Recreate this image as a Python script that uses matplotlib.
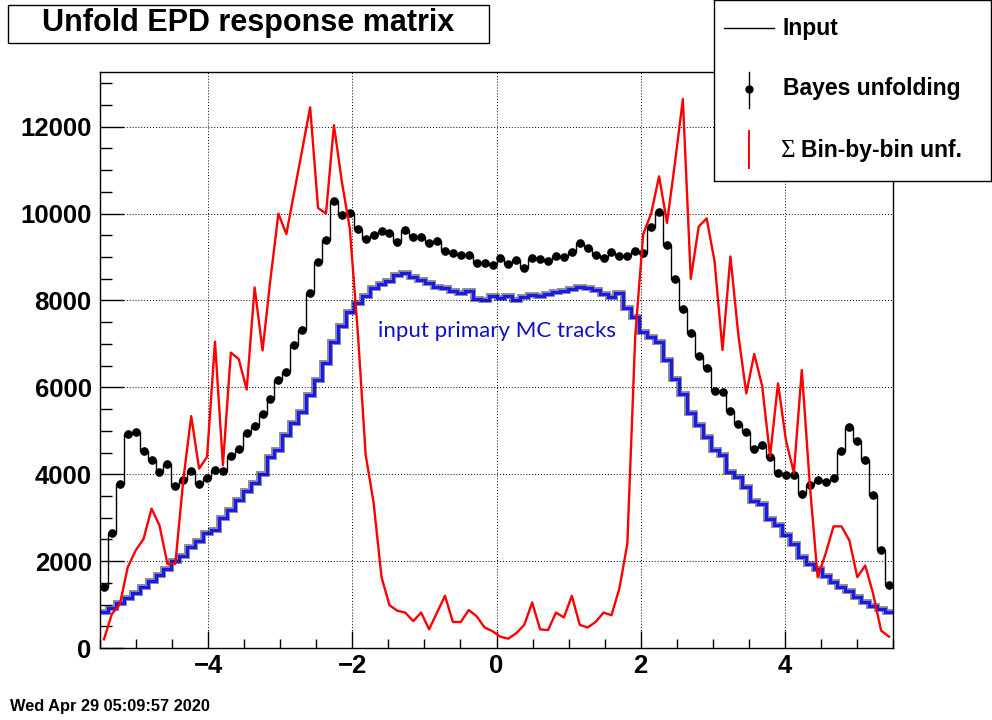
import numpy as np
import matplotlib.pyplot as plt
from matplotlib.ticker import MultipleLocator
from matplotlib.patches import Rectangle

plt.rcParams['font.family'] = ['Liberation Sans', 'DejaVu Sans']
plt.rcParams['font.weight'] = 'bold'

# 100 bins from -5.5 to 5.5
edges = np.linspace(-5.5, 5.5, 101)
centers = 0.5 * (edges[:-1] + edges[1:])

# Bayes unfolding (black points)
bayes = [1400, 2646, 3769, 4923, 4977, 4538, 4323, 4054, 4246, 3723,
         3861, 4077, 3769, 3908, 4092, 4069, 4423, 4577, 4938, 5115,
         5384, 5723, 6169, 6354, 6969, 7323, 8169, 8884, 9399, 10283,
         9957, 10009, 9657, 9417, 9511, 9597, 9545, 9357, 9614, 9460,
         9460, 9314, 9374, 9142, 9099, 9056, 9039, 8859, 8859, 8824,
         8970, 8842, 8927, 8756, 8970, 8944, 8910, 9013, 8996, 9116,
         9314, 9202, 9056, 8970, 9116, 9013, 9013, 9150, 9082, 9700,
         10043, 9270, 8498, 7807, 7261, 6723, 6438, 5923, 5900, 5454,
         5146, 4977, 4585, 4662, 4400, 4031, 3977, 3977, 3538, 3746,
         3861, 3815, 3915, 4538, 5092, 4761, 4323, 3515, 2261, 1461]

# input primary MC tracks (blue)
mc_input = [823, 923, 1031, 1154, 1261, 1415, 1531, 1692, 1815, 2000,
            2108, 2323, 2461, 2646, 2723, 3000, 3185, 3400, 3615, 3800,
            4015, 4400, 4554, 4900, 5169, 5438, 5823, 6169, 6554, 7054,
            7420, 7735, 7940, 8100, 8284, 8376, 8438, 8576, 8630, 8530,
            8476, 8400, 8322, 8284, 8223, 8169, 8207, 8038, 8015, 8092,
            8054, 8092, 8015, 8069, 8115, 8092, 8146, 8192, 8223, 8269,
            8322, 8284, 8246, 8146, 8069, 8169, 7823, 7620, 7284, 7154,
            7054, 6630, 6200, 5850, 5400, 5130, 4860, 4554, 4438, 4054,
            3938, 3708, 3385, 3323, 2977, 2823, 2592, 2400, 2092, 1938,
            1823, 1669, 1515, 1415, 1323, 1169, 1054, 977, 900, 823]

# sum of bin-by-bin unfolding (red)
binbybin = [200, 785, 1000, 1862, 2246, 2515, 3208, 2823, 1938, 1938,
            3861, 5338, 4131, 4400, 7054, 4208, 6800, 6650, 5950, 8300,
            6850, 8498, 10000, 9528, 10500, 11470, 12447, 10129, 10000, 12035,
            10730, 9657, 7296, 4450, 3348, 1631, 987, 858, 815, 618,
            815, 429, 815, 1202, 600, 600, 875, 730, 472, 386,
            258, 215, 343, 532, 1047, 429, 412, 815, 704, 1202,
            532, 472, 600, 815, 755, 1373, 2400, 7200, 9528, 10000,
            10858, 9786, 11160, 12636, 8498, 9700, 9890, 8900, 6861, 9013,
            7200, 5861, 6769, 6030, 4415, 6092, 4784, 4031, 6400, 3785,
            1631, 2169, 2800, 2800, 2477, 1631, 1900, 1246, 400, 262]

fig = plt.figure(figsize=(9.92, 7.2), dpi=100)
ax = fig.add_axes([100 / 992, 72 / 720, 793 / 992, 576 / 720])

ax.stairs(mc_input, edges, baseline=None, color='#101030', lw=4.2, alpha=0.5)
ax.stairs(mc_input, edges, baseline=None, color='#1a1aee', lw=2.2)
ax.stairs(bayes, edges, baseline=None, color='black', lw=1)
ax.plot(centers, bayes, 'o', color='black', ms=5.2)
ax.plot(centers, binbybin, color='red', lw=1.7)

ax.text(-1.64, 7300, 'input primary MC tracks', color='#1010c0', fontsize=16,
        fontweight='normal', family=['Lato', 'DejaVu Sans'], va='center', ha='left')

ax.set_xlim(-5.5, 5.5)
ax.set_ylim(0, 13260)
ax.set_xticks([-4, -2, 0, 2, 4])
ax.xaxis.set_minor_locator(MultipleLocator(0.5))
ax.yaxis.set_major_locator(MultipleLocator(2000))
ax.yaxis.set_minor_locator(MultipleLocator(500))
ax.tick_params(axis='x', which='major', direction='in', length=12.5, width=1,
               labelsize=18.5, pad=4)
ax.tick_params(axis='x', which='minor', direction='in', length=6.5, width=1)
ax.tick_params(axis='y', which='major', direction='in', length=17, width=1,
               labelsize=18.5, pad=6)
ax.tick_params(axis='y', which='minor', direction='in', length=8.5, width=1)
ax.grid(True, which='major', color='black', ls=(0, (1, 2)), lw=0.7)
for s in ax.spines.values():
    s.set_linewidth(1)

# title box
fig.patches.append(Rectangle((8 / 992, 1 - 43 / 720), 481 / 992, 38 / 720,
                             transform=fig.transFigure, fc='white', ec='black', lw=1))
fig.text(248 / 992, 1 - 23 / 720, 'Unfold EPD response matrix', fontsize=22,
         ha='center', va='center')

# legend box
lax = fig.add_axes([714 / 992, 1 - 181 / 720, 277 / 992, 181 / 720])
lax.set_xlim(714, 991)
lax.set_ylim(181, 0)
lax.set_xticks([])
lax.set_yticks([])
for s in lax.spines.values():
    s.set_linewidth(1)
lax.plot([724, 774], [28, 28], color='black', lw=1)
lax.text(783, 28, 'Input', fontsize=16.5, va='center')
lax.plot([749, 749], [72, 108], color='black', lw=1)
lax.plot([749], [89], 'o', color='black', ms=5)
lax.text(783, 89, 'Bayes unfolding', fontsize=16.5, va='center')
lax.plot([749, 749], [131, 168], color='red', lw=1.4)
lax.text(781, 157, '\u03a3', fontsize=18, va='baseline', fontweight='normal',
         family=['Liberation Serif', 'DejaVu Serif'])
lax.text(801, 150, 'Bin-by-bin unf.', fontsize=16.5, va='center')

fig.text(10 / 992, 1 - 706 / 720, 'Wed Apr 29 05:09:57 2020', fontsize=11.8,
         ha='left', va='center')

fig.savefig('out.png', dpi=100)
